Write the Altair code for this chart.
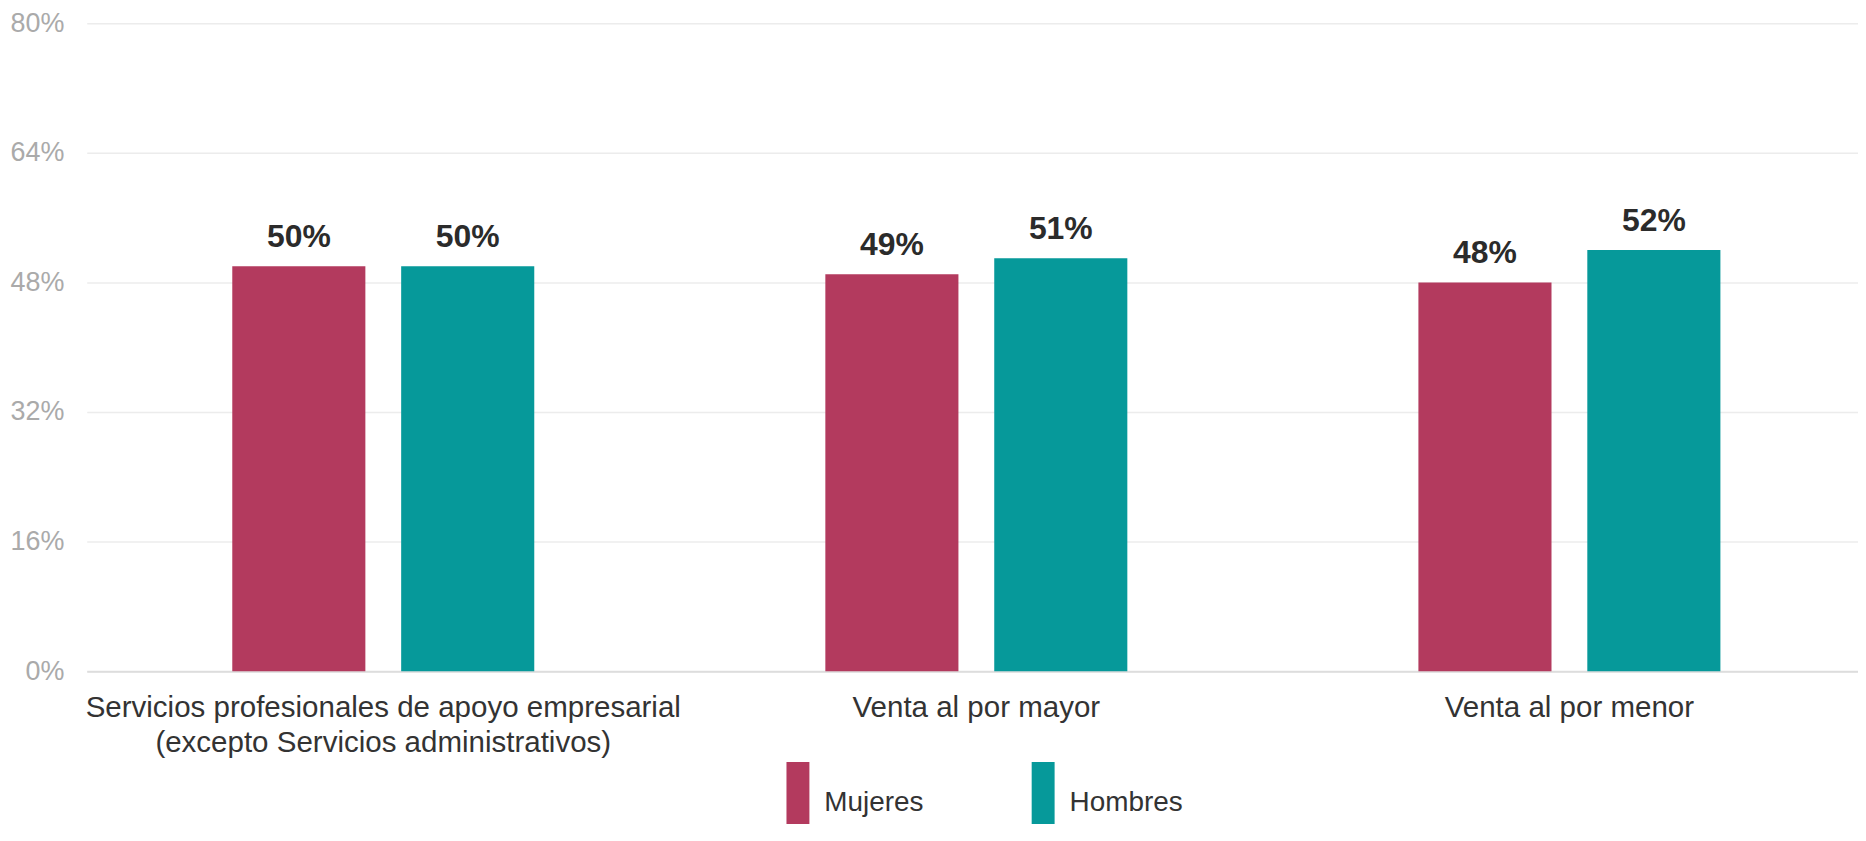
import altair as alt
import pandas as pd

categories = [
    "Servicios profesionales de apoyo empresarial (excepto Servicios administrativos)",
    "Venta al por mayor",
    "Venta al por menor",
]
series = ["Mujeres", "Hombres"]
mujeres = [50, 49, 48]
hombres = [50, 51, 52]
colors = ["#b33a5e", "#06999a"]
y_ticks = [0, 16, 32, 48, 64, 80]

rows = []
for i, c in enumerate(categories):
    rows.append({"categoria": c, "sexo": "Mujeres", "valor": mujeres[i]})
    rows.append({"categoria": c, "sexo": "Hombres", "valor": hombres[i]})
df = pd.DataFrame(rows)

FONT = "Liberation Sans"

x_enc = alt.X(
    "categoria:N",
    sort=categories,
    scale=alt.Scale(paddingInner=0.4908, paddingOuter=0.2387, align=0.514),
    axis=alt.Axis(
        title=None,
        labelAngle=0,
        labelFont=FONT,
        labelFontSize=29.6,
        labelColor="#333333",
        labelPadding=22,
        labelLineHeight=36,
        labelLimit=2000,
        labelBaseline="top",
        labelAlign="center",
        labelOverlap=False,
        labelBound=False,
        ticks=False,
        domain=True,
        domainColor="#dddddd",
        domainWidth=2,
        labelExpr="split(replace(datum.label, ' (', '|('), '|')",
    ),
)
xo_enc = alt.XOffset(
    "sexo:N", sort=series, scale=alt.Scale(paddingInner=0.212, paddingOuter=0)
)
y_enc = alt.Y(
    "valor:Q",
    scale=alt.Scale(domain=[0, 80], nice=False),
    axis=alt.Axis(
        values=y_ticks,
        title=None,
        labelExpr="datum.value + '%'",
        labelFont=FONT,
        labelFontSize=27,
        labelColor="#aaaaaa",
        labelPadding=23,
        ticks=False,
        domain=False,
        gridColor="#ececec",
        gridWidth=1.5,
    ),
)
color_enc = alt.Color(
    "sexo:N",
    sort=series,
    scale=alt.Scale(domain=series, range=colors),
    legend=alt.Legend(
        title=None,
        orient="none",
        direction="horizontal",
        legendX=657,
        legendY=741,
        symbolType="M0.0843,-1L0.6386,-1L0.6386,1L0.0843,1Z",
        symbolSize=6889,
        symbolStrokeWidth=0,
        symbolOpacity=1,
        symbolOffset=0,
        labelFont=FONT,
        labelFontSize=28,
        labelColor="#333333",
        labelOffset=0,
        columnPadding=63,
        padding=0,
    ),
)

base = alt.Chart(df)
bars = base.mark_bar().encode(x=x_enc, xOffset=xo_enc, y=y_enc, color=color_enc)
text = base.transform_calculate(etiqueta="datum.valor + '%'").mark_text(
    dy=-19, baseline="alphabetic", fontSize=32, fontWeight="bold",
    color="#2b2b2b", font=FONT,
).encode(x=x_enc, xOffset=xo_enc, y=y_enc, text="etiqueta:N")

chart = (
    alt.layer(bars, text)
    .properties(
        width=1777,
        height=650,
        autosize=alt.AutoSizeParams(type="none"),
        padding={"left": 79, "top": 14, "right": 0, "bottom": 152},
        background="white",
    )
    .configure_view(stroke=None)
)

chart.save("out.html", embed_options={"renderer": "svg", "actions": False})
